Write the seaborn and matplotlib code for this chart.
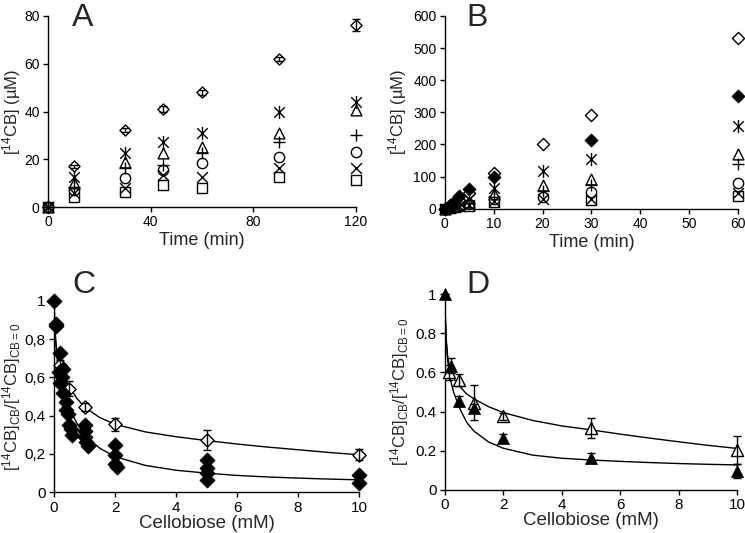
import numpy as np
import matplotlib
matplotlib.use("Agg")
import matplotlib.pyplot as plt
from matplotlib.path import Path
import seaborn as sns

# ---- panel A : time course, several series ----
time_a = [0, 10, 30, 45, 60, 90, 120]
a_diamond = [0, 17, 32.3, 41, 48, 61.9, 76.2]
a_diamond_err = [0, 0.8, 1.0, 1.2, 1.0, 0.8, 2.5]
a_asterisk = [0, 12.5, 22.5, 27.4, 31.1, 39.9, 44.1]
a_triangle = [0, 10, 19, 22.5, 25.3, 30.9, 40.6]
a_plus = [0, 8.5, 16.2, 17.6, 22.5, 27.4, 30.2]
a_circle = [0, 7, 12, 15.5, 18.3, 21.1, 23.2]
a_cross = [0, 6, 7.8, 13.4, 12.7, 16.2, 16.2]
a_square = [0, 4, 6.4, 9.2, 7.8, 12.7, 11.3]

# ---- panel B ----
time_b = [0, 1, 2, 3, 5, 10, 20, 30, 60]
b_diamond_open = [0, 8, 16, 28, 50, 112, 201, 292, 533]
b_diamond_fill = [0, 12, 25, 40, 60, 100, np.nan, 214, 350]
b_asterisk = [0, 6, 12, 20, 30, 65, 117, 155, 257]
b_triangle = [0, 5, 10, 15, 22, 45, 74, 94, 170]
b_plus = [0, 4, 8, 12, 18, 38, 56, 74, 138]
b_circle = [0, 3, 6, 10, 15, 31, 37, 51, 81]
b_cross = [0, 3, 5, 8, 12, 25, 29, 29, 48]
b_square = [0, 2, 4, 7, 10, 21, np.nan, 27, 39]

# ---- panel C ----
c_fill_x = [0, 0.05, 0.08, 0.2, 0.15, 0.3, 0.25, 0.2, 0.3, 0.4, 0.4, 0.45, 0.5, 0.55, 0.6,
            1, 1, 1, 1.05, 1.1, 2, 2, 2, 2.05, 5, 5, 5, 5, 10, 10]
c_fill_y = [1.0, 0.88, 0.87, 0.725, 0.63, 0.645, 0.6, 0.57, 0.52, 0.47, 0.43, 0.41, 0.35, 0.33, 0.30,
            0.35, 0.32, 0.29, 0.26, 0.24, 0.245, 0.195, 0.15, 0.13, 0.17, 0.125, 0.10, 0.065, 0.092, 0.05]
c_open_x = [0.2, 0.5, 1, 2, 5, 10]
c_open_y = [0.665, 0.54, 0.445, 0.355, 0.273, 0.196]
c_open_err = [0.025, 0.04, 0.02, 0.035, 0.05, 0.028]
fit_x = [0, 0.02, 0.05, 0.1, 0.2, 0.3, 0.5, 0.75, 1, 1.5, 2, 3, 4, 5, 6, 7, 8, 9, 10]
c_fit_open = [1.0, 0.9, 0.8, 0.72, 0.65, 0.61, 0.55, 0.49, 0.445, 0.39, 0.355, 0.315, 0.29,
              0.27, 0.252, 0.236, 0.222, 0.208, 0.196]
c_fit_fill = [1.0, 0.9, 0.8, 0.7, 0.6, 0.53, 0.44, 0.36, 0.30, 0.23, 0.186, 0.14, 0.115,
              0.10, 0.088, 0.08, 0.074, 0.069, 0.065]

# ---- panel D ----
d_fill_x = [0, 0.2, 0.5, 1, 2, 5, 10]
d_fill_y = [1.0, 0.635, 0.455, 0.42, 0.265, 0.162, 0.098]
d_fill_err = [0, 0.04, 0.025, 0.02, 0.02, 0.025, 0.035]
d_open_x = [0.15, 0.5, 1, 2, 5, 10]
d_open_y = [0.6, 0.56, 0.445, 0.375, 0.315, 0.205]
d_open_err = [0.04, 0.03, 0.09, 0.02, 0.05, 0.07]
d_fit_open = [1.0, 0.88, 0.77, 0.68, 0.6, 0.57, 0.53, 0.49, 0.465, 0.425, 0.395, 0.355, 0.327,
              0.307, 0.285, 0.265, 0.246, 0.228, 0.212]
d_fit_fill = [1.0, 0.88, 0.76, 0.66, 0.56, 0.5, 0.42, 0.345, 0.3, 0.245, 0.213, 0.178, 0.162,
              0.153, 0.146, 0.14, 0.135, 0.131, 0.128]

sns.set_style("ticks")
plt.rcParams['font.family'] = ['Liberation Sans', 'DejaVu Sans']
plt.rcParams['mathtext.fontset'] = 'custom'
plt.rcParams['mathtext.rm'] = 'Liberation Sans'
plt.rcParams['mathtext.it'] = 'Liberation Sans:italic'
plt.rcParams['mathtext.bf'] = 'Liberation Sans:bold'

# excel-like asterisk: an X with a vertical stroke
ASTERISK = Path([(0, -1), (0, 1), (-0.8, -0.8), (0.8, 0.8), (-0.8, 0.8), (0.8, -0.8)],
                [Path.MOVETO, Path.LINETO] * 3)


def pts(ax, x, y, marker, s=40, kind='line'):
    if kind == 'open':
        sns.scatterplot(x=x, y=y, ax=ax, marker=marker, s=s, color='black',
                        facecolor='white', edgecolor='black', linewidth=1, clip_on=False, zorder=3)
    elif kind == 'fill':
        sns.scatterplot(x=x, y=y, ax=ax, marker=marker, s=s, color='black',
                        edgecolor='black', linewidth=0.5, clip_on=False, zorder=3)
    elif kind == 'path':
        sns.scatterplot(x=x, y=y, ax=ax, marker=marker, s=s, color='black',
                        edgecolor='black', linewidth=1, clip_on=False, zorder=3)
    else:
        sns.scatterplot(x=x, y=y, ax=ax, marker=marker, s=s, color='black',
                        linewidth=1, clip_on=False, zorder=3)


def errs(ax, x, y, e):
    ax.errorbar(x, y, yerr=e, fmt='none', ecolor='black', elinewidth=1,
                capsize=3, capthick=1, clip_on=False, zorder=4)


def style(ax, tsize):
    sns.despine(ax=ax)
    for sp in ['left', 'bottom']:
        ax.spines[sp].set_linewidth(1)
        ax.spines[sp].set_color('black')
    ax.tick_params(direction='out', length=3.5, width=1, labelsize=tsize, colors='black', pad=2.5)


fig = plt.figure(figsize=(7.45, 5.33), dpi=100)
axA = fig.add_axes([0.0644, 0.6116, 0.4134, 0.3584])
axB = fig.add_axes([0.597, 0.6084, 0.3937, 0.3616])
axC = fig.add_axes([0.0725, 0.0764, 0.4094, 0.3594])
axD = fig.add_axes([0.597, 0.0807, 0.3923, 0.3677])

# A
pts(axA, time_a, a_square, 's', s=55, kind='open')
pts(axA, time_a, a_circle, 'o', s=55, kind='open')
pts(axA, time_a, a_triangle, '^', s=60, kind='open')
pts(axA, time_a, a_diamond, 'D', s=32, kind='open')
pts(axA, time_a, a_cross, 'x', s=60)
pts(axA, time_a, a_plus, '+', s=80)
pts(axA, time_a, a_asterisk, ASTERISK, s=90, kind='path')
errs(axA, time_a, a_diamond, a_diamond_err)
axA.set_xlim(0, 120)
axA.set_ylim(0, 80)
axA.set_xticks([0, 40, 80, 120])
axA.set_yticks([0, 20, 40, 60, 80])
axA.set_xlabel('Time (min)', fontsize=13, labelpad=2)
axA.set_ylabel(r'[$^{14}$CB] (µM)', fontsize=12, labelpad=1)
style(axA, 10)

# B
pts(axB, time_b, b_square, 's', s=55, kind='open')
pts(axB, time_b, b_circle, 'o', s=55, kind='open')
pts(axB, time_b, b_triangle, '^', s=60, kind='open')
pts(axB, time_b, b_diamond_open, 'D', s=38, kind='open')
pts(axB, time_b, b_diamond_fill, 'D', s=45, kind='fill')
pts(axB, time_b, b_cross, 'x', s=60)
pts(axB, time_b, b_plus, '+', s=80)
pts(axB, time_b, b_asterisk, ASTERISK, s=90, kind='path')
axB.set_xlim(0, 60)
axB.set_ylim(0, 600)
axB.set_xticks(range(0, 61, 10))
axB.set_yticks(range(0, 601, 100))
axB.set_xlabel('Time (min)', fontsize=13, labelpad=2)
axB.set_ylabel(r'[$^{14}$CB] (µM)', fontsize=12, labelpad=3)
style(axB, 10)

ylab_cd = r'[$^{14}$CB]$_{\mathrm{CB}}$/[$^{14}$CB]$_{\mathrm{CB=0}}$'

# C
sns.lineplot(x=fit_x, y=c_fit_open, ax=axC, color='black', lw=1, estimator=None, sort=False)
sns.lineplot(x=fit_x, y=c_fit_fill, ax=axC, color='black', lw=1, estimator=None, sort=False)
pts(axC, c_open_x, c_open_y, 'D', s=45, kind='open')
errs(axC, c_open_x, c_open_y, c_open_err)
pts(axC, c_fill_x, c_fill_y, 'D', s=60, kind='fill')
axC.set_xlim(0, 10)
axC.set_ylim(0, 1)
axC.set_xticks([0, 2, 4, 6, 8, 10])
axC.set_yticks([0, 0.2, 0.4, 0.6, 0.8, 1])
axC.set_yticklabels(['0', '0,2', '0,4', '0,6', '0,8', '1'])
axC.set_xlabel('Cellobiose (mM)', fontsize=13.5, labelpad=0)
axC.set_ylabel(ylab_cd, fontsize=12, labelpad=1)
style(axC, 11)

# D
sns.lineplot(x=fit_x, y=d_fit_open, ax=axD, color='black', lw=1, estimator=None, sort=False)
sns.lineplot(x=fit_x, y=d_fit_fill, ax=axD, color='black', lw=1, estimator=None, sort=False)
pts(axD, d_open_x, d_open_y, '^', s=75, kind='open')
pts(axD, d_fill_x, d_fill_y, '^', s=75, kind='fill')
errs(axD, d_open_x, d_open_y, d_open_err)
errs(axD, d_fill_x, d_fill_y, d_fill_err)
axD.set_xlim(0, 10)
axD.set_ylim(0, 1)
axD.set_xticks([0, 2, 4, 6, 8, 10])
axD.set_yticks([0, 0.2, 0.4, 0.6, 0.8, 1])
axD.set_yticklabels(['0', '0.2', '0.4', '0.6', '0.8', '1'])
axD.set_xlabel('Cellobiose (mM)', fontsize=13.5, labelpad=0)
axD.set_ylabel(ylab_cd, fontsize=12, labelpad=3)
style(axD, 11)

for lab, x, y in [('A', 72, 26), ('B', 466, 26), ('C', 72, 293), ('D', 466, 293)]:
    fig.text(x / 745, 1 - y / 533, lab, fontsize=23, ha='left', va='baseline')

fig.savefig('out.png', dpi=100)
